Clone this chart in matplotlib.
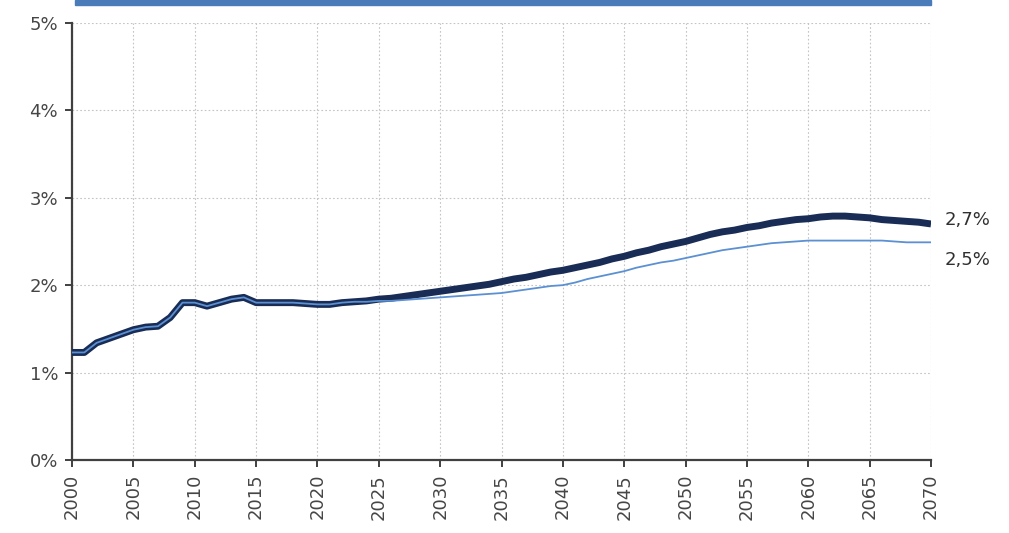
import matplotlib

matplotlib.use("Agg")
import matplotlib.pyplot as plt
from matplotlib.patches import Rectangle

# --- data --------------------------------------------------------------------
years = list(range(2000, 2071))

# thick dark line (%)
base = [
    1.23, 1.23, 1.34, 1.39, 1.44, 1.49, 1.52, 1.53, 1.63, 1.80,
    1.80, 1.76, 1.80, 1.84, 1.86, 1.80, 1.80, 1.80, 1.80, 1.79,
    1.78, 1.78, 1.80, 1.81, 1.82, 1.84, 1.85, 1.87, 1.89, 1.91,
    1.93, 1.95, 1.97, 1.99, 2.01, 2.04, 2.07, 2.09, 2.12, 2.15,
    2.17, 2.20, 2.23, 2.26, 2.30, 2.33, 2.37, 2.40, 2.44, 2.47,
    2.50, 2.54, 2.58, 2.61, 2.63, 2.66, 2.68, 2.71, 2.73, 2.75,
    2.76, 2.78, 2.79, 2.79, 2.78, 2.77, 2.75, 2.74, 2.73, 2.72,
    2.70,
]

# thin light-blue line (%)
alt = [
    1.23, 1.23, 1.34, 1.39, 1.44, 1.49, 1.52, 1.53, 1.63, 1.80,
    1.80, 1.76, 1.80, 1.84, 1.86, 1.80, 1.80, 1.80, 1.80, 1.79,
    1.78, 1.78, 1.80, 1.81, 1.81, 1.82, 1.82, 1.83, 1.84, 1.85,
    1.86, 1.87, 1.88, 1.89, 1.90, 1.91, 1.93, 1.95, 1.97, 1.99,
    2.00, 2.03, 2.07, 2.10, 2.13, 2.16, 2.20, 2.23, 2.26, 2.28,
    2.31, 2.34, 2.37, 2.40, 2.42, 2.44, 2.46, 2.48, 2.49, 2.50,
    2.51, 2.51, 2.51, 2.51, 2.51, 2.51, 2.51, 2.50, 2.49, 2.49,
    2.49,
]

end_labels = ["2,7%", "2,5%"]
x_ticks = list(range(2000, 2071, 5))
y_ticks = [0, 1, 2, 3, 4, 5]

# --- figure --------------------------------------------------------------------
fig = plt.figure(figsize=(10.09, 5.33), dpi=100)
ax = fig.add_axes([0.0714, 0.137, 0.8513, 0.820])

ax.plot(years, base, color="#182c55", lw=5, solid_capstyle="butt",
        solid_joinstyle="round", zorder=3)
ax.plot(years, alt, color="#5b90d2", lw=1.3, zorder=4)

ax.set_xlim(2000, 2070)
ax.set_ylim(0, 5)
ax.set_xticks(x_ticks)
ax.set_xticklabels([str(y) for y in x_ticks], rotation=90)
ax.set_yticks(y_ticks)
ax.set_yticklabels([f"{v}%" for v in y_ticks])

ax.grid(True, color="#c4c4c4", ls=(0, (1.5, 2)), lw=0.8)
ax.set_axisbelow(True)

for side in ("top", "right"):
    ax.spines[side].set_visible(False)
for side in ("left", "bottom"):
    ax.spines[side].set_color("#404040")
    ax.spines[side].set_linewidth(1.6)

ax.tick_params(axis="both", direction="out", length=5, width=1.4,
               color="#404040", labelcolor="#454545", labelsize=13, pad=5)

# end-of-line value labels
ax.annotate(end_labels[0], xy=(years[-1], base[-1]), xytext=(10, 3),
            textcoords="offset points", va="center", ha="left",
            fontsize=13, color="#303030", annotation_clip=False)
ax.annotate(end_labels[1], xy=(years[-1], alt[-1]), xytext=(10, -13),
            textcoords="offset points", va="center", ha="left",
            fontsize=13, color="#303030", annotation_clip=False)

# blue header bar at the top edge
fig.patches.append(Rectangle((75 / 1009, 1 - 5 / 533), (931 - 75) / 1009, 5 / 533,
                             transform=fig.transFigure, color="#4a7cba", zorder=5))

fig.savefig("out.png", dpi=100)
